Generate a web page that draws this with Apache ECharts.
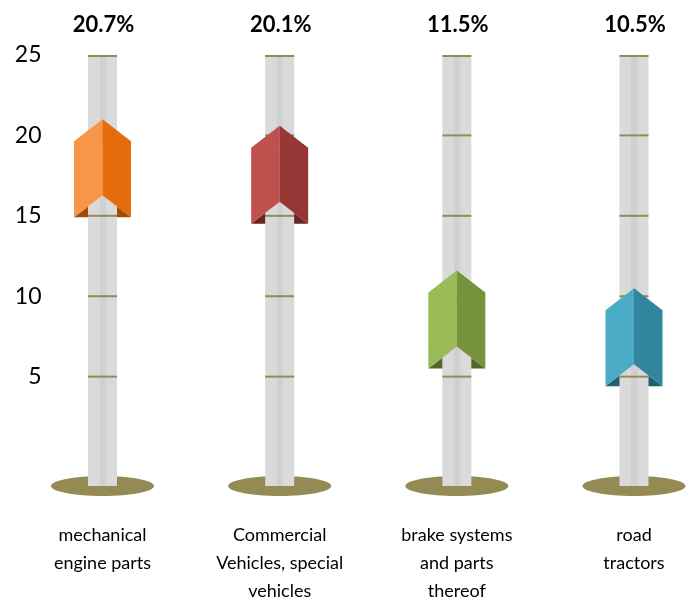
<!DOCTYPE html>
<html>
<head>
<meta charset="utf-8">
<script src="https://cdn.jsdelivr.net/npm/echarts@6/dist/echarts.min.js"></script>
<style>
  html, body { margin: 0; padding: 0; background: #fff; }
  #chart { width: 693px; height: 606px; }
</style>
</head>
<body>
<div id="chart"></div>
<script>
// 数据
var categories = ['mechanical\nengine parts', 'Commercial\nVehicles, special\nvehicles', 'brake systems\nand parts\nthereof', 'road\ntractors'];
var shares = [20.7, 20.1, 11.5, 10.5];
var arrowTops = [21.0, 20.6, 11.6, 10.5];
var yTicks = [5, 10, 15, 20, 25];

var lightColors = ['#F79646', '#C0504D', '#9BBB59', '#4BACC6'];
var darkColors = ['#E46C0A', '#953735', '#77933C', '#31859C'];
var shadeColors = ['#A04C07', '#6A2523', '#526728', '#215E6E'];

var yMin = -1.8, yMax = 25;

var chart = echarts.init(document.getElementById('chart'));

function renderItem(params, api) {
  var i = api.value(0);
  var top = api.coord([i, yMax]);
  var bottom = api.coord([i, yMin]);
  var tip = api.coord([i, api.value(1)]);
  var x = top[0];
  var poleW = 29, halfW = 28.5, slant = 22, arrowH = 98;
  var t = tip[1], b = tip[1] + arrowH;
  var children = [];

  // 底座
  children.push({
    type: 'ellipse',
    shape: { cx: x, cy: bottom[1], rx: 51.5, ry: 10 },
    style: { fill: '#948A54' }
  });
  // 箭头背面
  children.push({
    type: 'polygon',
    shape: { points: [[x - halfW, b], [x, b - slant], [x + halfW, b]] },
    style: { fill: shadeColors[i] }
  });
  // 柱子
  children.push({
    type: 'rect',
    shape: { x: x - poleW / 2, y: top[1], width: poleW, height: bottom[1] - top[1] },
    style: {
      fill: new echarts.graphic.LinearGradient(0, 0, 1, 0, [
        { offset: 0, color: '#DADADA' },
        { offset: 0.4, color: '#D9D9D9' },
        { offset: 0.41, color: '#D0D0D0' },
        { offset: 0.62, color: '#D0D0D0' },
        { offset: 0.63, color: '#DADADA' },
        { offset: 1, color: '#DADADA' }
      ])
    }
  });
  yTicks.forEach(function (v) {
    var p = api.coord([i, v]);
    var yy = v === yMax ? p[1] + 1 : p[1];
    children.push({
      type: 'line',
      shape: { x1: x - poleW / 2, y1: yy, x2: x + poleW / 2, y2: yy },
      style: { stroke: '#948A54', lineWidth: 2 }
    });
  });
  // 箭头正面
  children.push({
    type: 'polygon',
    shape: { points: [[x, t], [x - halfW, t + slant], [x - halfW, b], [x, b - slant]] },
    style: { fill: lightColors[i] }
  });
  children.push({
    type: 'polygon',
    shape: { points: [[x, t], [x + halfW, t + slant], [x + halfW, b], [x, b - slant]] },
    style: { fill: darkColors[i] }
  });
  // 百分比
  children.push({
    type: 'text',
    style: {
      text: shares[i].toFixed(1) + '%',
      x: x + 1,
      y: top[1] - 30,
      align: 'center',
      verticalAlign: 'middle',
      fontFamily: 'Lato',
      fontWeight: 'bold',
      fontSize: 22,
      fill: '#000'
    }
  });
  return { type: 'group', children: children };
}

var option = {
  animation: false,
  grid: {
    left: 102.5,
    right: 59,
    top: 55,
    bottom: 120,
    containLabel: false,
    outerBoundsMode: 'none'
  },
  xAxis: {
    type: 'category',
    data: categories,
    boundaryGap: false,
    axisLine: { show: false },
    axisTick: { show: false },
    splitLine: { show: false },
    axisLabel: {
      interval: 0,
      margin: 35,
      fontFamily: 'Lato',
      fontSize: 18,
      lineHeight: 28,
      color: '#000',
      align: 'center'
    }
  },
  yAxis: {
    type: 'value',
    min: yMin,
    max: yMax,
    axisLine: { show: false },
    axisTick: { show: false },
    splitLine: { show: false },
    axisLabel: {
      customValues: yTicks,
      margin: 61,
      fontFamily: 'Lato',
      fontSize: 23,
      color: '#000'
    }
  },
  series: [{
    type: 'custom',
    renderItem: renderItem,
    data: arrowTops.map(function (v, i) { return [i, v]; }),
    clip: false
  }]
};

chart.setOption(option);
</script>
</body>
</html>
